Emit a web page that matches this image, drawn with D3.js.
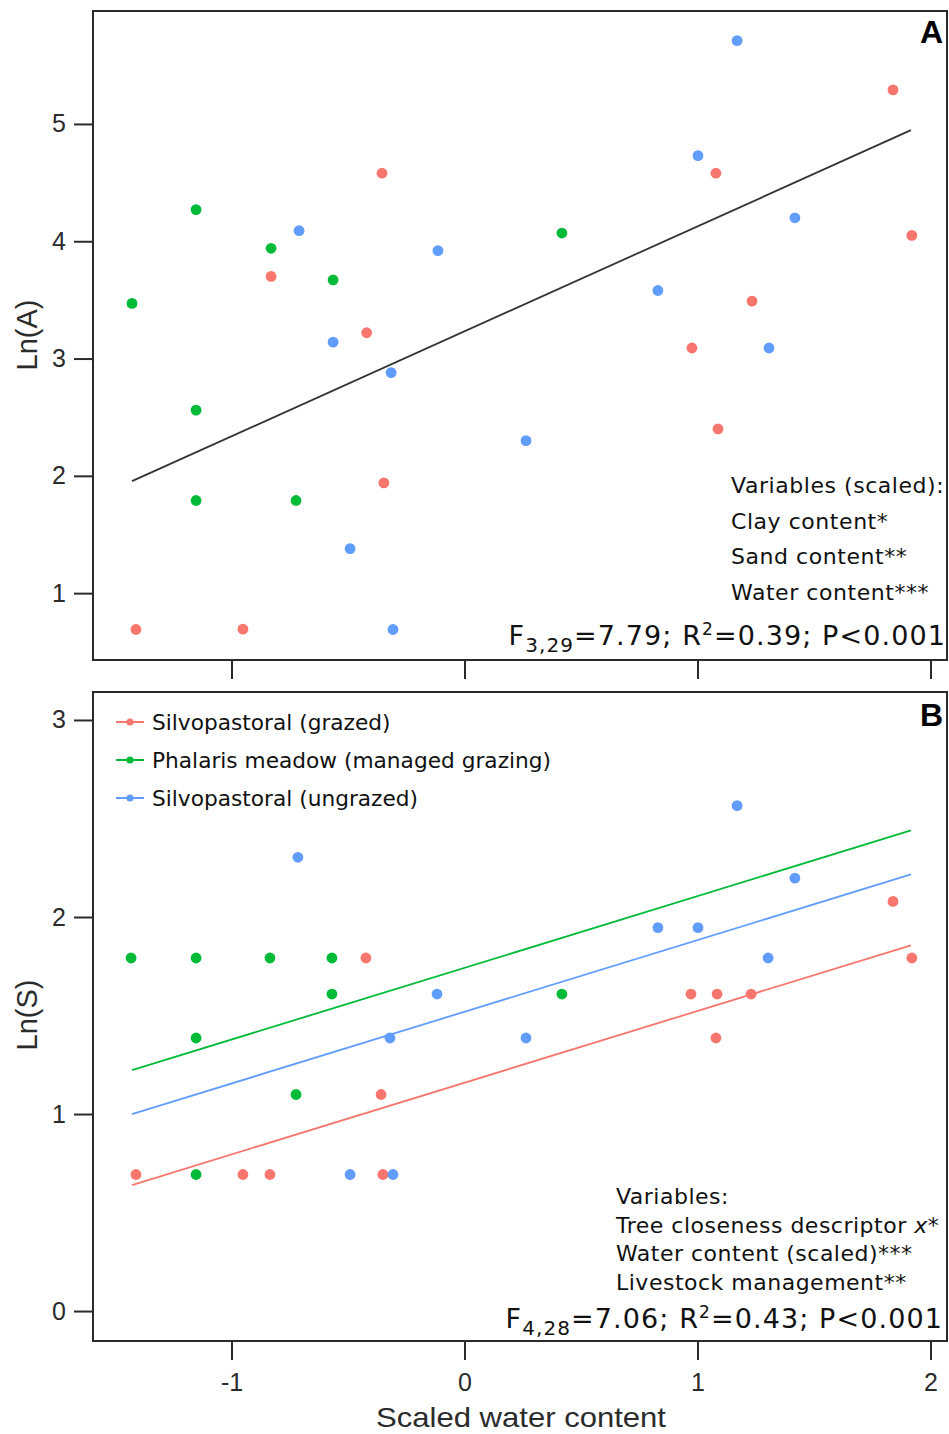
<!DOCTYPE html>
<html>
<head>
<meta charset="utf-8">
<script src="https://cdn.jsdelivr.net/npm/d3@7"></script>
<style>
  html, body { margin: 0; padding: 0; background: #fff; }
  svg { display: block; }
</style>
</head>
<body>
<div id="chart"></div>
<script>
// ---------- data ----------
const groups = ["Silvopastoral (grazed)", "Phalaris meadow (managed grazing)", "Silvopastoral (ungrazed)"];
const groupColors = ["#F8766D", "#00BA38", "#619CFF"];

const xTicks = [-1, 0, 1, 2];
const yTicksA = [1, 2, 3, 4, 5];
const yTicksB = [0, 1, 2, 3];

// Panel A: Ln(A)
const aGrazedX   = [-1.41, -0.951, -0.83, -0.42, -0.354, -0.346, 0.976, 1.079, 1.088, 1.234, 1.839, 1.92];
const aGrazedY   = [0.69, 0.693, 3.70, 3.22, 4.58, 1.94, 3.09, 4.58, 2.40, 3.49, 5.29, 4.05];
const aMeadowX   = [-1.427, -1.152, -1.152, -1.152, -0.83, -0.723, -0.564, 0.418];
const aMeadowY   = [3.47, 4.27, 2.56, 1.79, 3.94, 1.79, 3.67, 4.07];
const aUngrazedX = [-0.71, -0.564, -0.491, -0.315, -0.307, -0.114, 0.264, 0.83, 1.002, 1.17, 1.307, 1.418];
const aUngrazedY = [4.09, 3.14, 1.38, 2.88, 0.69, 3.92, 2.30, 3.58, 4.73, 5.71, 3.09, 4.20];

// Panel B: Ln(S)
const bGrazedX   = [-1.41, -0.951, -0.835, -0.423, -0.358, -0.35, 0.972, 1.079, 1.084, 1.23, 1.839, 1.92];
const bGrazedY   = [0.693, 0.693, 0.693, 1.792, 1.099, 0.693, 1.609, 1.386, 1.609, 1.609, 2.079, 1.792];
const bMeadowX   = [-1.431, -1.152, -0.835, -0.569, -0.569, 0.418, -1.152, -0.723, -1.152];
const bMeadowY   = [1.792, 1.792, 1.792, 1.792, 1.609, 1.609, 1.386, 1.099, 0.693];
const bUngrazedX = [-0.715, -0.118, -0.32, 0.264, -0.491, -0.307, 1.17, 1.418, 0.83, 1.002, 1.303];
const bUngrazedY = [2.303, 1.609, 1.386, 1.386, 0.693, 0.693, 2.565, 2.197, 1.946, 1.946, 1.792];

// fitted models
const fitRange = [-1.427, 1.916];
const fitAIntercept = 3.232, fitASlope = 0.895;
const fitBIntercepts = [1.159, 1.742, 1.519], fitBSlope = 0.364;

const annotA = ["Variables (scaled):", "Clay content*", "Sand content**", "Water content***"];
const annotB = ["Variables:", "Tree closeness descriptor ", "Water content (scaled)***", "Livestock management**"];

// ---------- layout ----------
const W = 949, H = 1434;
const svg = d3.select("#chart").append("svg").attr("width", W).attr("height", H);

const left = 93, right = 947;
const topA = 11, botA = 660, topB = 692, botB = 1341;

const x = d3.scaleLinear().domain([(left - 464.5) / 233, (right - 464.5) / 233]).range([left, right]);
const yA = d3.scaleLinear().domain([0.43, 5.963]).range([botA, topA]);
const yB = d3.scaleLinear().domain([-0.152, 3.142]).range([botB, topB]);

const axisFont = "'Liberation Sans', Arial, sans-serif";
const textFont = "'DejaVu Sans', Verdana, sans-serif";
const ink = "#2b2b2b";

function styleAxis(g) {
  g.select(".domain").remove();
  g.selectAll(".tick line").attr("stroke", ink).attr("stroke-width", 2);
  g.selectAll(".tick text").attr("fill", ink).style("font-family", axisFont).style("font-size", "25px");
}

function panel(yScale, yTicks, top, bot, showXLabels) {
  const g = svg.append("g");
  g.append("g").attr("transform", `translate(${left},0)`)
    .call(d3.axisLeft(yScale).tickValues(yTicks).tickSize(19).tickPadding(8).tickFormat(d => String(d)))
    .call(styleAxis);
  g.append("g").attr("transform", `translate(0,${bot})`)
    .call(d3.axisBottom(x).tickValues(xTicks).tickSize(19).tickPadding(13)
      .tickFormat(d => showXLabels ? String(d) : ""))
    .call(styleAxis);
  g.append("rect").attr("x", left).attr("y", top).attr("width", right - left).attr("height", bot - top)
    .attr("fill", "none").attr("stroke", ink).attr("stroke-width", 2);
  return g;
}

function drawPoints(g, yScale, xs, ys, color) {
  g.append("g").selectAll("circle").data(xs.map((v, i) => [v, ys[i]])).join("circle")
    .attr("cx", d => x(d[0])).attr("cy", d => yScale(d[1])).attr("r", 5.4).attr("fill", color);
}

// ---------- Panel A ----------
const gA = panel(yA, yTicksA, topA, botA, false);
const line = d3.line();
gA.append("path")
  .attr("d", line(fitRange.map(v => [x(v), yA(fitAIntercept + fitASlope * v)])))
  .attr("stroke", "#333").attr("stroke-width", 1.8).attr("fill", "none");
drawPoints(gA, yA, aGrazedX, aGrazedY, groupColors[0]);
drawPoints(gA, yA, aMeadowX, aMeadowY, groupColors[1]);
drawPoints(gA, yA, aUngrazedX, aUngrazedY, groupColors[2]);

gA.append("text").attr("x", 943).attr("y", 43).attr("text-anchor", "end")
  .style("font-family", "'Liberation Sans', Arial, sans-serif").style("font-weight", "bold").style("font-size", "32px")
  .text("A");

annotA.forEach((t, i) => {
  gA.append("text").attr("x", 731).attr("y", 493 + i * 35.7)
    .style("font-family", textFont).style("font-size", "22px").style("letter-spacing", "0.55px")
    .attr("fill", "#111").text(t);
});

function stats(g, xr, yb, sub, sup, rest1, rest2) {
  const t = g.append("text").attr("x", xr).attr("y", yb).attr("text-anchor", "end")
    .style("font-family", textFont).style("font-size", "27px").style("letter-spacing", "1.1px")
    .attr("fill", "#111");
  t.append("tspan").text("F");
  t.append("tspan").attr("dy", 7).style("font-size", "20px").text(sub);
  t.append("tspan").attr("dy", -7).text(rest1);
  t.append("tspan").attr("dy", -10).style("font-size", "17px").text(sup);
  t.append("tspan").attr("dy", 10).text(rest2);
}
stats(gA, 946, 645, "3,29", "2", "=7.79; R", "=0.39; P<0.001");

// ---------- Panel B ----------
const gB = panel(yB, yTicksB, topB, botB, true);
fitBIntercepts.forEach((b0, i) => {
  gB.append("path")
    .attr("d", line(fitRange.map(v => [x(v), yB(b0 + fitBSlope * v)])))
    .attr("stroke", groupColors[i]).attr("stroke-width", 1.8).attr("fill", "none");
});
drawPoints(gB, yB, bGrazedX, bGrazedY, groupColors[0]);
drawPoints(gB, yB, bMeadowX, bMeadowY, groupColors[1]);
drawPoints(gB, yB, bUngrazedX, bUngrazedY, groupColors[2]);

gB.append("text").attr("x", 943).attr("y", 726).attr("text-anchor", "end")
  .style("font-family", "'Liberation Sans', Arial, sans-serif").style("font-weight", "bold").style("font-size", "32px")
  .text("B");

// legend
const leg = gB.append("g");
groups.forEach((name, i) => {
  const cy = 722 + i * 38;
  leg.append("line").attr("x1", 116).attr("x2", 144).attr("y1", cy).attr("y2", cy)
    .attr("stroke", groupColors[i]).attr("stroke-width", 2);
  leg.append("circle").attr("cx", 130).attr("cy", cy).attr("r", 3.6).attr("fill", groupColors[i]);
  leg.append("text").attr("x", 152).attr("y", cy + 8)
    .style("font-family", textFont).style("font-size", "21.7px").attr("fill", "#111").text(name);
});

annotB.forEach((t, i) => {
  const tx = gB.append("text").attr("x", 616).attr("y", 1204 + i * 28.6)
    .style("font-family", textFont).style("font-size", "22px").style("letter-spacing", "0.5px")
    .attr("fill", "#111").text(t);
  if (i === 1) {
    tx.append("tspan").style("font-style", "italic").text("x");
    tx.append("tspan").text("*");
  }
});
stats(gB, 943, 1328, "4,28", "2", "=7.06; R", "=0.43; P<0.001");

// axis titles
svg.append("text").attr("transform", "translate(37,335) rotate(-90)").attr("text-anchor", "middle")
  .style("font-family", axisFont).style("font-size", "29px").attr("fill", ink).text("Ln(A)");
svg.append("text").attr("transform", "translate(37,1015) rotate(-90)").attr("text-anchor", "middle")
  .style("font-family", axisFont).style("font-size", "29px").attr("fill", ink).text("Ln(S)");
svg.append("text").attr("x", 521).attr("y", 1427).attr("text-anchor", "middle")
  .attr("textLength", 290).attr("lengthAdjust", "spacingAndGlyphs")
  .style("font-family", axisFont).style("font-size", "28px").attr("fill", ink).text("Scaled water content");
</script>
</body>
</html>
